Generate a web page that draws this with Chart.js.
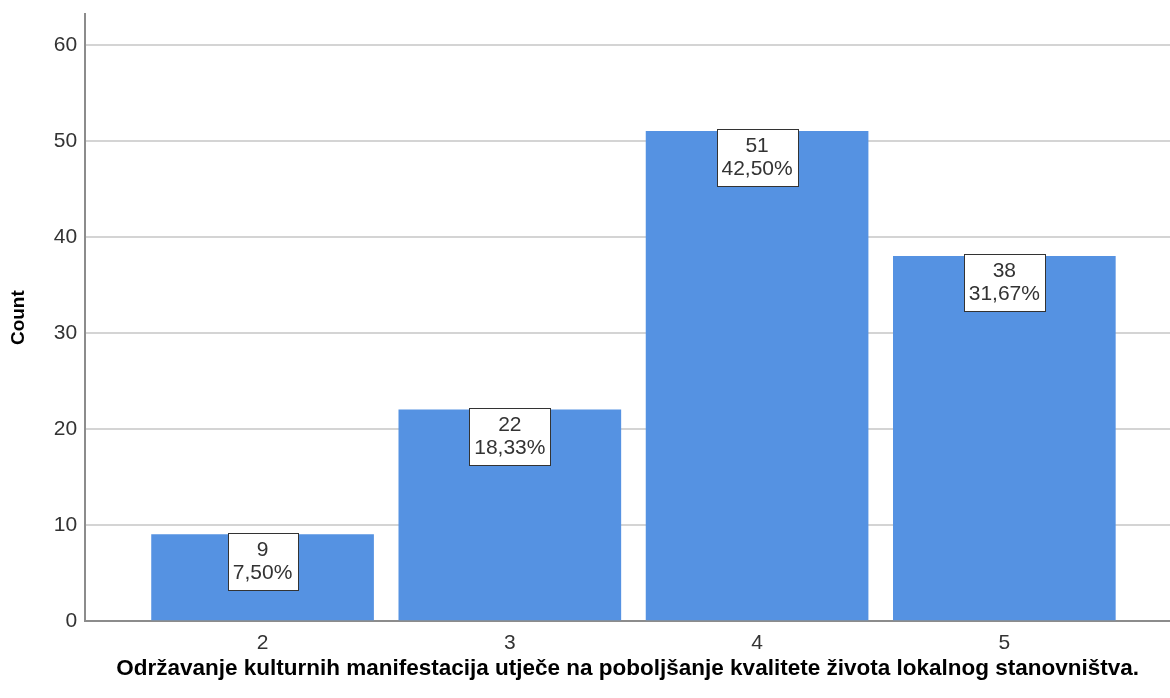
<!DOCTYPE html>
<html>
<head>
<meta charset="utf-8">
<script src="https://cdn.jsdelivr.net/npm/chart.js@4"></script>
<style>
    html, body { margin: 0; padding: 0; background: #fff; }
    #wrap { width: 1170px; height: 698px; position: relative; }
</style>
</head>
<body>
<div id="wrap"><canvas id="countChart"></canvas></div>
<script>
// Data
const categories = [2, 3, 4, 5];
const counts = [9, 22, 51, 38];
const percentLabels = ['7,50%', '18,33%', '42,50%', '31,67%'];
const yTicks = [0, 10, 20, 30, 40, 50, 60];

const xTitle = 'Održavanje kulturnih manifestacija utječe na poboljšanje kvalitete života lokalnog stanovništva.';
const yTitle = 'Count';

const fontFamily = 'Liberation Sans, Arial, sans-serif';

/**
 * Draws the boxed "count / percent" labels at the top of each bar
 */
const boxLabels = {
    id: 'boxLabels',
    afterDatasetsDraw(chart) {
        const ctx = chart.ctx;
        const meta = chart.getDatasetMeta(0);
        ctx.save();
        ctx.font = '21px ' + fontFamily;
        ctx.textAlign = 'center';
        ctx.textBaseline = 'middle';
        meta.data.forEach((bar, i) => {
            const lines = [String(counts[i]), percentLabels[i]];
            const w = Math.round(Math.max(...lines.map(t => ctx.measureText(t).width)) + 10);
            const h = 57;
            const left = Math.round(bar.x - w / 2) + 0.5;
            const top = Math.round(bar.y) - 1.5;
            ctx.fillStyle = '#ffffff';
            ctx.fillRect(left, top, w, h);
            ctx.strokeStyle = '#333333';
            ctx.lineWidth = 1;
            ctx.strokeRect(left, top, w, h);
            ctx.fillStyle = '#333333';
            ctx.fillText(lines[0], bar.x, top + 17);
            ctx.fillText(lines[1], bar.x, top + 40);
        });
        ctx.restore();
    }
};

new Chart(document.getElementById('countChart'), {
    type: 'bar',
    data: {
        datasets: [{
            label: 'Count',
            data: categories.map((c, i) => ({ x: c, y: counts[i] })),
            backgroundColor: '#5592e2',
            borderWidth: 0,
            barThickness: 222
        }]
    },
    options: {
        responsive: true,
        maintainAspectRatio: false,
        animation: false,
        layout: { padding: { top: 2, right: 0, left: 7, bottom: 0 } },
        plugins: {
            legend: { display: false },
            tooltip: { enabled: false }
        },
        scales: {
            x: {
                type: 'linear',
                offset: false,
                min: 1.2825,
                max: 5.67,
                afterBuildTicks: axis => { axis.ticks = categories.map(v => ({ value: v })); },
                grid: { display: false, drawTicks: false },
                border: { display: true, color: '#8c8c8c', width: 2 },
                ticks: { color: '#333333', font: { family: fontFamily, size: 21, lineHeight: 1 }, padding: 12 },
                title: {
                    display: true,
                    text: xTitle,
                    color: '#000000',
                    font: { family: fontFamily, size: 22.5, weight: 'bold', lineHeight: 1 },
                    padding: { top: -8, bottom: 17.5 }
                }
            },
            y: {
                min: 0,
                max: 63.2,
                afterBuildTicks: axis => { axis.ticks = yTicks.map(v => ({ value: v })); },
                grid: { color: '#d4d4d4', lineWidth: 2, drawTicks: false },
                border: { display: true, color: '#8c8c8c', width: 2 },
                ticks: { color: '#333333', font: { family: fontFamily, size: 21, lineHeight: 0.6 }, padding: 8 },
                title: {
                    display: true,
                    text: yTitle,
                    color: '#000000',
                    font: { family: fontFamily, size: 19, weight: 'bold' },
                    padding: { top: 0, bottom: 16 }
                }
            }
        }
    },
    plugins: [boxLabels]
});
</script>
</body>
</html>
